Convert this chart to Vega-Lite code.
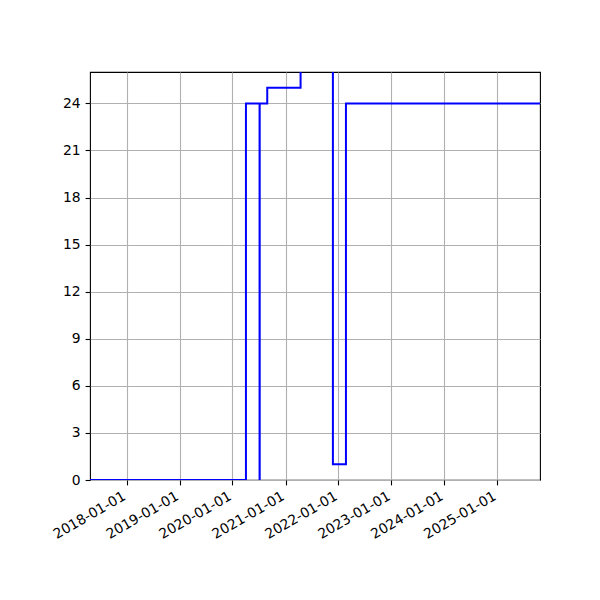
{
  "$schema": "https://vega.github.io/schema/vega-lite/v6.json",
  "width": 450,
  "height": 408,
  "autosize": {"type": "none"},
  "padding": {"left": 90, "top": 72, "right": 60, "bottom": 120},
  "background": "white",
  "config": {
    "view": {"stroke": "black", "strokeWidth": 1.1},
    "axis": {
      "labelFont": "DejaVu Sans",
      "labelFontSize": 13.9,
      "labelColor": "black",
      "tickColor": "black",
      "tickSize": 4.9,
      "tickWidth": 1.1,
      "domain": false,
      "grid": true,
      "gridColor": "#b0b0b0",
      "gridWidth": 1.1,
      "title": null
    }
  },
  "data": {
    "values": [
      {"date": "2017-04-23", "value": 0},
      {"date": "2020-04-03", "value": 24},
      {"date": "2020-07-06", "value": 0},
      {"date": "2020-07-07", "value": 24},
      {"date": "2020-08-28", "value": 25},
      {"date": "2021-04-15", "value": 30},
      {"date": "2021-11-24", "value": 1},
      {"date": "2022-02-22", "value": 24},
      {"date": "2025-10-23", "value": 24}
    ]
  },
  "mark": {"type": "line", "interpolate": "step-after", "color": "#0000ff", "strokeWidth": 2, "clip": true},
  "encoding": {
    "x": {
      "field": "date",
      "type": "temporal",
      "scale": {
        "type": "utc",
        "domain": [
          {"year": 2017, "month": 4, "date": 23, "utc": true},
          {"year": 2025, "month": 10, "date": 23, "utc": true}
        ],
        "nice": false
      },
      "axis": {
        "values": [
          {"year": 2018, "month": 1, "date": 1, "utc": true},
          {"year": 2019, "month": 1, "date": 1, "utc": true},
          {"year": 2020, "month": 1, "date": 1, "utc": true},
          {"year": 2021, "month": 1, "date": 1, "utc": true},
          {"year": 2022, "month": 1, "date": 1, "utc": true},
          {"year": 2023, "month": 1, "date": 1, "utc": true},
          {"year": 2024, "month": 1, "date": 1, "utc": true},
          {"year": 2025, "month": 1, "date": 1, "utc": true}
        ],
        "labelExpr": "utcFormat(datum.value, '%Y-%m-%d')",
        "labelAngle": -30,
        "labelAlign": "right",
        "labelBaseline": "top",
        "labelPadding": 4,
        "labelOffset": -6,
        "labelOverlap": false
      }
    },
    "y": {
      "field": "value",
      "type": "quantitative",
      "scale": {"domain": [0, 26], "nice": false, "zero": true},
      "axis": {"values": [0, 3, 6, 9, 12, 15, 18, 21, 24], "labelPadding": 4.9}
    }
  }
}
